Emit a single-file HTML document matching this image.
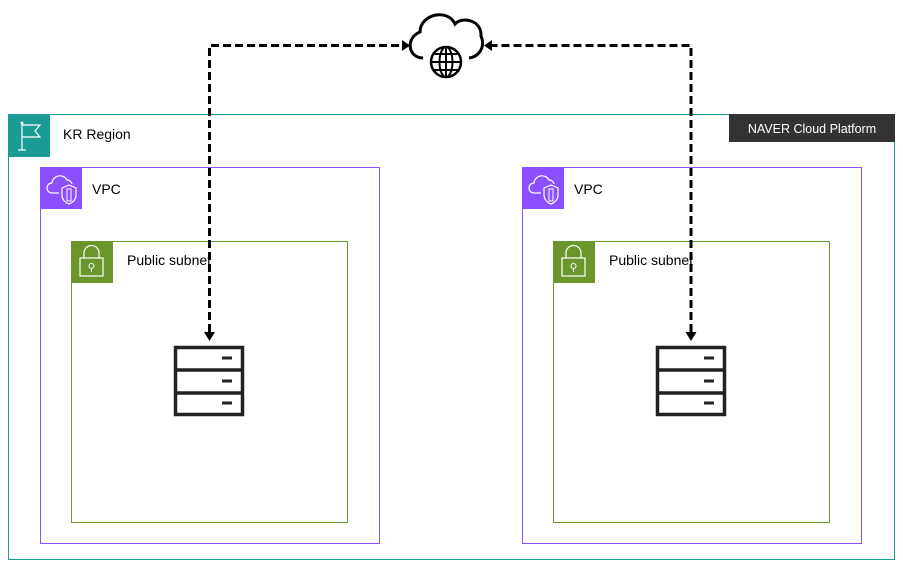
<!DOCTYPE html>
<html><head><meta charset="utf-8"><style>
html,body{margin:0;padding:0;background:#fff;}
svg{display:block;font-family:"Liberation Sans",Arial,sans-serif;}
</style></head><body>
<svg width="903" height="570" viewBox="0 0 903 570" xmlns="http://www.w3.org/2000/svg">
<defs>
<g id="server">
  <rect x="1.5" y="1.5" width="67" height="67" fill="none" stroke="#222" stroke-width="3.5"/>
  <line x1="1.5" y1="24" x2="68.5" y2="24" stroke="#222" stroke-width="3.5"/>
  <line x1="1.5" y1="47" x2="68.5" y2="47" stroke="#222" stroke-width="3.5"/>
  <line x1="48" y1="12" x2="58" y2="12" stroke="#222" stroke-width="3"/>
  <line x1="48" y1="35" x2="58" y2="35" stroke="#222" stroke-width="3"/>
  <line x1="48" y1="57" x2="58" y2="57" stroke="#222" stroke-width="3"/>
</g>
<g id="vpcicon">
  <rect width="42" height="42" fill="#8c4fff"/>
  <path d="M19 26 H12 a5 5 0 0 1 0 -10 a8 8 0 0 1 15 -3 a5 5 0 0 1 5 4" fill="none" stroke="#fff" stroke-width="1.2"/>
  <path d="M29 18 l7 3 v7 c0 5 -4 8 -7 9 c-3 -1 -7 -4 -7 -9 v-7 z" fill="none" stroke="#fff" stroke-width="1.2"/>
  <rect x="27" y="22" width="4" height="12" fill="none" stroke="#fff" stroke-width="1"/>
</g>
<g id="subicon">
  <rect width="42" height="42" fill="#6b962b"/>
  <rect x="9" y="17" width="23" height="18" fill="none" stroke="#fff" stroke-width="1.2"/>
  <path d="M13 17 v-5 a7.5 7.5 0 0 1 15 0 v5" fill="none" stroke="#fff" stroke-width="1.2"/>
  <circle cx="20.5" cy="25" r="2.5" fill="none" stroke="#fff" stroke-width="1"/>
  <line x1="20.5" y1="27.5" x2="20.5" y2="31" stroke="#fff" stroke-width="1"/>
</g>
</defs>

<rect x="8.5" y="114.5" width="886" height="445" fill="none" stroke="#1a9c95" stroke-width="1"/>
<rect x="8" y="114" width="42" height="43" fill="#1a9c95"/>
<line x1="22" y1="123" x2="22" y2="150" stroke="#fff" stroke-width="1.2"/>
<line x1="18" y1="150" x2="26" y2="150" stroke="#fff" stroke-width="1.2"/>
<circle cx="22" cy="123" r="1.5" fill="#fff"/>
<path d="M22 125 H40 L35 131 L40 137 H22" fill="none" stroke="#fff" stroke-width="1.2"/>
<text x="63" y="139" font-size="14" fill="#000">KR Region</text>
<rect x="729" y="114" width="166" height="28" fill="#333"/>
<text x="812" y="133" font-size="12.5" fill="#fff" text-anchor="middle">NAVER Cloud Platform</text>

<rect x="40.5" y="167.5" width="339" height="376" fill="none" stroke="#8c4fff"/>
<use href="#vpcicon" x="40" y="167"/>
<text x="92" y="194" font-size="14" fill="#000">VPC</text>
<rect x="71.5" y="241.5" width="276" height="281" fill="none" stroke="#6b962b"/>
<use href="#subicon" x="71" y="241"/>
<text x="127" y="265" font-size="14" fill="#000">Public subnet</text>
<use href="#server" x="174" y="346"/>

<rect x="522.5" y="167.5" width="339" height="376" fill="none" stroke="#8c4fff"/>
<use href="#vpcicon" x="522" y="167"/>
<text x="574" y="194" font-size="14" fill="#000">VPC</text>
<rect x="553.5" y="241.5" width="276" height="281" fill="none" stroke="#6b962b"/>
<use href="#subicon" x="553" y="241"/>
<text x="609" y="265" font-size="14" fill="#000">Public subnet</text>
<use href="#server" x="656" y="346"/>

<path d="M423 58 C408 58 405 38 420 32 C420 14 448 8 455 24 C462 16 482 20 481 36 C486 48 478 57 469 58" fill="none" stroke="#000" stroke-width="3"/>
<circle cx="446" cy="62" r="15" fill="#fff" stroke="#000" stroke-width="2.5"/>
<ellipse cx="446" cy="62" rx="6.5" ry="15" fill="none" stroke="#000" stroke-width="2"/>
<line x1="446" y1="47" x2="446" y2="77" stroke="#000" stroke-width="2"/>
<line x1="431" y1="62" x2="461" y2="62" stroke="#000" stroke-width="2"/>
<line x1="433" y1="54" x2="459" y2="54" stroke="#000" stroke-width="2"/>
<line x1="433" y1="70" x2="459" y2="70" stroke="#000" stroke-width="2"/>

<path d="M209.5 332 V45.5 H402" fill="none" stroke="#000" stroke-width="3" stroke-dasharray="8,4"/>
<path d="M402 40 L410 45.5 L402 51 Z" fill="#000"/>
<path d="M204 332 L209.5 341 L215 332 Z" fill="#000"/>
<path d="M691 332 V45.5 H492" fill="none" stroke="#000" stroke-width="3" stroke-dasharray="8,4"/>
<path d="M492 40 L484 45.5 L492 51 Z" fill="#000"/>
<path d="M685.5 332 L691 341 L696.5 332 Z" fill="#000"/>
</svg>
</body></html>
